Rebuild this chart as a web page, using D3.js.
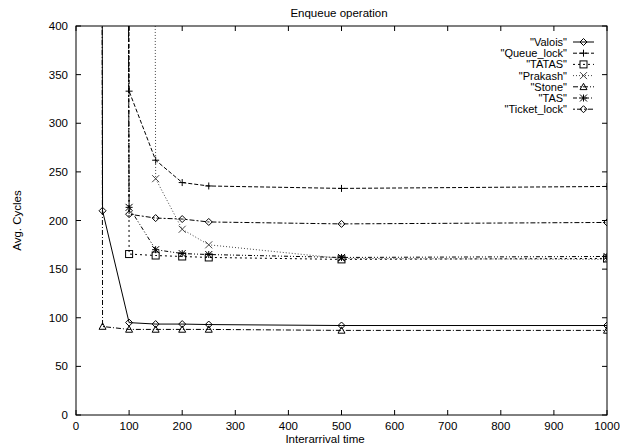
<!DOCTYPE html>
<html><head><meta charset="utf-8">
<script src="https://cdn.jsdelivr.net/npm/d3@7/dist/d3.min.js"></script>
<style>body{margin:0;background:#fff}svg{display:block}text{font-family:"Liberation Sans",Arial,sans-serif;fill:#000}</style>
</head><body><svg id="c" width="620" height="444"></svg>
<script>
// Interarrival times (x); 25 is an off-scale lead-in point
const interarrival = [25, 50, 100, 150, 200, 250, 500, 1000];
const offscale = 10000; // estimated saturated value above axis range
const valois     = [offscale, 210, 95, 93.5, 93.5, 93, 92, 92];
const queueLock  = [null, offscale, 333, 262, 239, 235.5, 233, 235];
const tatas      = [null, offscale, 165.5, 164, 163, 162, 160, 161];
const prakash    = [null, null, offscale, 243, 191, 175, 161, 160];
const stone      = [offscale, 91, 88, 88, 88, 88, 87, 87];
const tas        = [null, offscale, 213.5, 170, 166, 165, 162, 163];
const ticketLock = [null, offscale, 206.5, 202.5, 201.5, 198.5, 196.5, 198];
const seriesNames = ['"Valois"','"Queue_lock"','"TATAS"','"Prakash"','"Stone"','"TAS"','"Ticket_lock"'];
const xTicks = [0,100,200,300,400,500,600,700,800,900,1000];
const yTicks = [0,50,100,150,200,250,300,350,400];

const allSeries = [valois, queueLock, tatas, prakash, stone, tas, ticketLock];
const dashes = [null, "4,2", "2,3", "1,2", "5,2,1,2", "4,2,1,2,1,2", "2,2,5,2"];
const markers = ["diamond","plus","square","cross","triangle","star","diamond"];
const strokes = ["#000","#000","#000","#444","#000","#000","#000"];

const svg = d3.select("#c");
const L=76, R=607, T=26, B=415;
const x = d3.scaleLinear().domain([0,1000]).range([L,R]);
const y = d3.scaleLinear().domain([0,400]).range([B,T]);

svg.append("defs").append("clipPath").attr("id","clip")
  .append("rect").attr("x",L).attr("y",T).attr("width",R-L).attr("height",B-T);

const FS = 11.5;
const g = svg.append("g");
xTicks.forEach(t=>{
  g.append("line").attr("x1",x(t)).attr("x2",x(t)).attr("y1",B).attr("y2",B-5).attr("stroke","#000");
  g.append("line").attr("x1",x(t)).attr("x2",x(t)).attr("y1",T).attr("y2",T+5).attr("stroke","#000");
  g.append("text").attr("x",x(t)).attr("y",B+15).attr("text-anchor","middle").attr("font-size",FS).text(t);
});
yTicks.forEach(t=>{
  g.append("line").attr("x1",L).attr("x2",L+5).attr("y1",y(t)).attr("y2",y(t)).attr("stroke","#000");
  g.append("line").attr("x1",R).attr("x2",R-5).attr("y1",y(t)).attr("y2",y(t)).attr("stroke","#000");
  g.append("text").attr("x",L-8).attr("y",y(t)+4).attr("text-anchor","end").attr("font-size",FS).text(t);
});

function marker(sel, type, cx, cy, color){
  const s=3.5;
  if(type==="diamond") sel.append("path").attr("d",`M${cx},${cy-s}L${cx+s},${cy}L${cx},${cy+s}L${cx-s},${cy}Z`).attr("fill","none").attr("stroke",color);
  else if(type==="plus") sel.append("path").attr("d",`M${cx-s},${cy}H${cx+s}M${cx},${cy-s}V${cy+s}`).attr("stroke",color);
  else if(type==="square") sel.append("rect").attr("x",cx-s).attr("y",cy-s).attr("width",2*s).attr("height",2*s).attr("fill","none").attr("stroke",color);
  else if(type==="cross") sel.append("path").attr("d",`M${cx-s},${cy-s}L${cx+s},${cy+s}M${cx-s},${cy+s}L${cx+s},${cy-s}`).attr("stroke",color);
  else if(type==="triangle") sel.append("path").attr("d",`M${cx},${cy-s}L${cx+s},${cy+s*0.8}L${cx-s},${cy+s*0.8}Z`).attr("fill","none").attr("stroke",color);
  else if(type==="star") sel.append("path").attr("d",`M${cx-s},${cy}H${cx+s}M${cx},${cy-s}V${cy+s}M${cx-s},${cy-s}L${cx+s},${cy+s}M${cx-s},${cy+s}L${cx+s},${cy-s}`).attr("stroke",color);
}

const plot = svg.append("g").attr("clip-path","url(#clip)");
allSeries.forEach((vals,i)=>{
  const pts = interarrival.map((xv,j)=>[xv, vals[j]]).filter(p=>p[1]!==null);
  const line = d3.line().x(d=>x(d[0])).y(d=>y(d[1]));
  plot.append("path").attr("d",line(pts)).attr("fill","none").attr("stroke",strokes[i])
    .attr("stroke-width",1).attr("stroke-dasharray",dashes[i]);
  pts.forEach(p=>{ if(p[1]<=400) marker(plot, markers[i], x(p[0]), y(p[1]), strokes[i]); });
});

// legend
const ly0 = 42, ldy = 11.2;
seriesNames.forEach((n,i)=>{
  const yy = ly0 + i*ldy;
  svg.append("text").attr("x",567).attr("y",yy+4).attr("text-anchor","end").attr("font-size",11).text(n);
  svg.append("line").attr("x1",573).attr("x2",594).attr("y1",yy).attr("y2",yy).attr("stroke",strokes[i]).attr("stroke-dasharray",dashes[i]);
  marker(svg, markers[i], 583.5, yy, strokes[i]);
});

// frame
svg.append("rect").attr("x",L).attr("y",T).attr("width",R-L).attr("height",B-T).attr("fill","none").attr("stroke","#000");

svg.append("text").attr("x",339).attr("y",17).attr("text-anchor","middle").attr("font-size",FS).text("Enqueue operation");
svg.append("text").attr("x",325).attr("y",443).attr("text-anchor","middle").attr("font-size",FS).text("Interarrival time");
svg.append("text").attr("transform",`translate(21,${(T+B)/2}) rotate(-90)`).attr("text-anchor","middle").attr("font-size",FS).text("Avg. Cycles");
</script></body></html>
